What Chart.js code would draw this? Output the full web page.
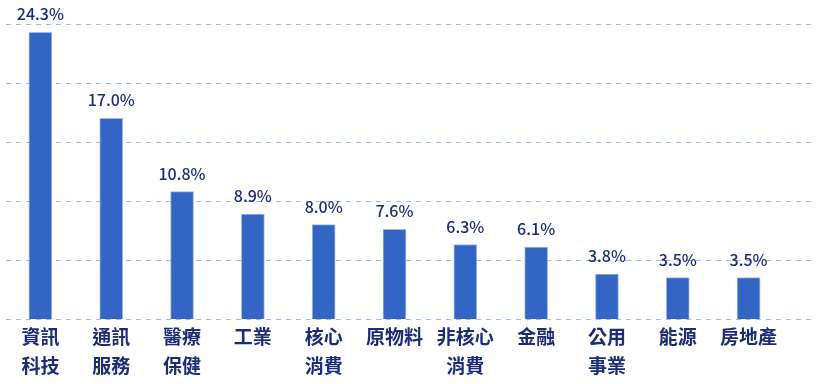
<!DOCTYPE html>
<html>
<head>
<meta charset="utf-8">
<script src="https://cdn.jsdelivr.net/npm/chart.js@4.4.0/dist/chart.umd.min.js"></script>
<style>
  html, body { margin:0; padding:0; background:#fff; }
  #wrap { width:820px; height:384px; }
</style>
</head>
<body>
<div id="wrap"><canvas id="c"></canvas></div>
<script>
// sector weights (%)
const sectors = [
  ['資訊','科技'], ['通訊','服務'], ['醫療','保健'], '工業', ['核心','消費'],
  '原物料', ['非核心','消費'], '金融', ['公用','事業'], '能源', '房地產'
];
const weights = [24.3, 17.0, 10.8, 8.9, 8.0, 7.6, 6.3, 6.1, 3.8, 3.5, 3.5];
const yTicks = [0, 5, 10, 15, 20, 25];

const NAVY = '#1c2c78';
const FONT = '"Noto Sans CJK TC", "Noto Sans", sans-serif';

// dashed grid spanning the full width, drawn from the y scale
const fullGrid = {
  id: 'fullGrid',
  beforeDatasetsDraw(chart) {
    const { ctx, scales: { y } } = chart;
    ctx.save();
    ctx.strokeStyle = '#9fbbea';
    ctx.lineWidth = 1;
    ctx.setLineDash([5, 5]);
    yTicks.forEach(t => {
      const py = Math.round(y.getPixelForValue(t)) + 0.5;
      ctx.beginPath();
      ctx.moveTo(6, py);
      ctx.lineTo(816, py);
      ctx.stroke();
    });
    ctx.restore();
  }
};

// value labels above bars
const valueLabels = {
  id: 'valueLabels',
  afterDatasetsDraw(chart) {
    const { ctx } = chart;
    const meta = chart.getDatasetMeta(0);
    ctx.save();
    ctx.fillStyle = NAVY;
    ctx.font = '500 16px ' + FONT;
    ctx.textAlign = 'center';
    ctx.textBaseline = 'bottom';
    meta.data.forEach((bar, i) => {
      ctx.fillText(weights[i].toFixed(1) + '%', bar.x, bar.y - 10);
    });
    ctx.restore();
  }
};

new Chart(document.getElementById('c'), {
  type: 'bar',
  data: {
    labels: sectors,
    datasets: [{
      data: weights,
      backgroundColor: '#3366c4',
      borderColor: '#9fb8e6',
      borderWidth: 1,
      barThickness: 23
    }]
  },
  options: {
    responsive: true,
    maintainAspectRatio: false,
    animation: false,
    layout: { padding: { top: 24, left: 5, right: 36, bottom: 2 } },
    plugins: { legend: { display: false }, tooltip: { enabled: false } },
    scales: {
      y: {
        display: false,
        min: 0, max: 25,
        ticks: { stepSize: 5 },
        grid: { display: false }
      },
      x: {
        grid: { display: false },
        border: { display: false },
        afterFit: s => { s.height = 63; },
        ticks: {
          color: NAVY,
          padding: -5,
          maxRotation: 0,
          autoSkip: false,
          font: { family: FONT, size: 19, weight: 'bold', lineHeight: 1.53 }
        }
      }
    }
  },
  plugins: [fullGrid, valueLabels]
});
</script>
</body>
</html>
